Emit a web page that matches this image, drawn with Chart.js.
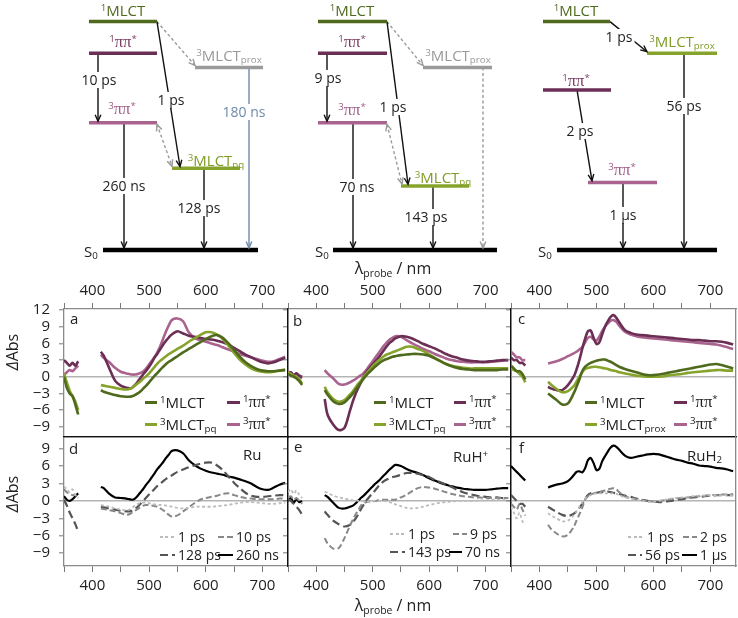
<!DOCTYPE html>
<html>
<head>
<meta charset="utf-8">
<script src="https://cdn.jsdelivr.net/npm/chart.js@4.4.1/dist/chart.umd.min.js"></script>
<style>
html, body { margin: 0; padding: 0; background: #fff; }
#wrap { position: relative; width: 738px; height: 618px; overflow: hidden; font-family: "Open Sans", sans-serif; color: #222; }
.layer { position: absolute; left: 0; top: 0; width: 738px; height: 618px; }
.txt { position: absolute; white-space: nowrap; line-height: 1; font-size: 15px; }
.c { transform: translate(-50%, -50%); }
.l { transform: translateY(-50%); }
.bg { background: #fff; padding: 1px 2px; }
.small { font-size: 14px; }
sup { font-size: .65em; vertical-align: .5em; line-height: 0; }
sub { font-size: .65em; vertical-align: -.3em; line-height: 0; }
.pi { font-family: "Liberation Serif", serif; font-size: 1.1em; }
.sw { position: absolute; }
</style>
</head>
<body>
<div id="wrap"></div>
<script>
// ---- spectra: wavelength grid (nm), 395 is the gap between the two probe windows
const WL = [350,355,360,365,370,375,395,
  415,420,430,440,450,460,
  465,470,475,480,485,490,495,500,505,510,515,520,525,530,535,540,
  550,560,570,580,590,600,610,620,630,640,650,660,670,680,690,700,710,720,730,740];

const X_TICKS = [350,400,450,500,550,600,650,700];
const X_LABELS = [400,500,600,700];
const Y_TICKS_TOP = [-9,-6,-3,0,3,6,9,12];
const Y_TICKS_BOT = [-9,-6,-3,0,3,6,9];

// panel a (Ru, spectra of the states)
const A_1MLCT = [0,-2,-3,-3.5,-5,-6.8, null,
  -2.4,-2.7,-3.0,-3.3,-3.5,-3.6,
  -3.6,-3.5,-3.3,-3.0,-2.6,-2.1,-1.6,-1.0,-0.4,0.2,0.7,1.3,1.8,2.3,2.7,3.0,
  3.7,4.4,5.0,5.6,6.2,6.8,7.3,7.5,7.0,6.0,4.8,3.6,2.6,1.9,1.4,1.1,1.0,1.0,1.1,1.2];
const A_3MLCT = [0.5,-1,-2.5,-3.5,-4.5,-6, null,
  -1.5,-1.6,-1.8,-2.0,-2.2,-2.3,
  -2.2,-2.0,-1.6,-1.2,-0.8,-0.3,0.1,0.6,1.2,1.8,2.4,2.9,3.3,3.7,4.1,4.4,
  5.0,5.6,6.3,6.9,7.5,8.0,8.0,7.6,6.8,5.6,4.3,3.1,2.2,1.5,1.1,0.9,0.8,0.9,1.1,1.3];
const A_1PP = [3.0,2.5,2.0,2.5,2.0,2.8, null,
  4.5,3.8,1.5,-0.7,-1.6,-2.0,
  -2.1,-2.0,-1.5,-0.9,-0.2,0.5,1.1,1.8,2.6,3.5,4.2,5.0,5.8,6.5,7.1,7.6,
  8.2,7.8,7.4,7.2,7.0,6.8,6.7,6.5,6.2,5.8,5.2,4.6,4.0,3.5,3.0,2.6,2.4,2.6,3.0,3.4];
const A_3PP = [0.3,0.8,1.2,1.0,1.5,2.0, null,
  4.0,3.4,2.6,1.6,0.9,0.6,
  0.5,0.4,0.4,0.5,0.7,1.0,1.5,2.2,2.9,3.6,4.5,5.6,6.9,8.2,9.3,10.2,
  10.5,10.0,8.0,7.0,6.6,6.3,6.0,5.7,5.3,4.9,4.5,4.1,3.8,3.5,3.2,2.9,2.7,2.8,3.2,3.6];

// panel b (RuH+)
const B_1MLCT = [0.5,0.2,0.0,-0.3,-0.8,-1.5, null,
  -2.4,-3.2,-4.4,-4.9,-4.6,-3.6,
  -3.0,-2.3,-1.6,-0.9,-0.2,0.4,0.9,1.4,1.9,2.3,2.7,3.0,3.2,3.4,3.6,3.7,
  3.9,4.0,4.1,4.1,4.0,3.8,3.3,2.8,2.3,1.9,1.6,1.4,1.3,1.2,1.2,1.2,1.2,1.2,1.3,1.3];
const B_3MLCT = [0.8,0.5,0.2,0.0,-0.5,-1.2, null,
  -1.8,-2.8,-4.0,-4.5,-4.2,-3.2,
  -2.6,-1.9,-1.2,-0.6,0.1,0.7,1.3,1.9,2.4,2.9,3.3,3.7,4.0,4.2,4.4,4.6,
  5.0,5.4,5.4,5.0,4.6,4.0,3.4,2.8,2.3,2.0,1.8,1.6,1.5,1.5,1.5,1.5,1.5,1.5,1.5,1.5];
const B_1PP = [0.5,0.8,0.3,0.6,0.2,0.0, null,
  -4.0,-6.8,-8.6,-9.6,-9.2,-6.0,
  -4.4,-3.0,-1.9,-0.8,0.2,1.0,1.6,2.2,2.8,3.4,4.1,4.8,5.5,6.1,6.5,6.9,
  7.3,7.2,6.9,6.4,5.9,5.5,5.1,4.6,4.1,3.7,3.4,3.1,2.9,2.8,2.7,2.7,2.8,2.9,3.0,3.0];
const B_3PP = [1.0,0.5,0.2,0.5,0.0,-0.3, null,
  1.2,0.6,-0.3,-1.3,-1.4,-1.0,
  -0.7,-0.4,0.0,0.3,0.8,1.4,2.1,2.8,3.5,4.2,4.9,5.6,6.2,6.7,7.0,7.3,
  7.2,6.6,6.0,5.5,5.0,4.6,4.1,3.7,3.3,3.0,2.8,2.7,2.6,2.6,2.6,2.6,2.7,2.8,2.9,3.0];

// panel c (RuH2)
const C_1MLCT = [2.0,1.5,1.0,1.0,0.5,-0.5, null,
  -3.0,-3.4,-4.2,-5.0,-4.8,-3.0,
  -1.8,-0.5,1.0,1.8,2.2,2.5,2.7,2.9,3.0,3.1,3.1,2.9,2.7,2.4,2.1,1.8,
  1.4,1.1,0.8,0.5,0.3,0.3,0.4,0.6,0.8,1.0,1.2,1.4,1.6,1.8,2.0,2.2,2.3,2.1,1.8,1.5];
const C_3MLCT = [1.5,1.2,1.0,0.5,0.0,-1.0, null,
  -0.9,-1.4,-2.2,-2.8,-2.6,-1.7,
  -0.9,0.0,0.8,1.4,1.6,1.7,1.8,1.8,1.7,1.6,1.5,1.4,1.2,1.1,1.0,0.8,
  0.6,0.4,0.2,0.1,0.0,0.0,0.0,0.1,0.3,0.4,0.5,0.7,0.8,0.9,1.0,1.1,1.2,1.2,1.1,1.1];
const C_1PP = [3.5,3.0,3.0,2.5,2.5,2.0, null,
  -1.8,-2.1,-2.4,-2.4,-1.5,0.0,
  1.3,3.0,5.0,6.8,8.2,8.3,7.0,5.9,6.2,7.6,9.0,10.0,10.8,11.1,10.6,9.8,
  8.4,7.9,7.6,7.5,7.4,7.3,7.2,7.1,7.0,6.9,6.8,6.7,6.6,6.6,6.5,6.4,6.4,6.3,6.1,5.8];
const C_3PP = [4.5,4.0,3.5,3.5,3.0,3.0, null,
  2.4,2.5,2.8,3.2,3.7,4.2,
  4.5,4.9,5.3,6.2,7.0,7.2,6.7,6.5,7.2,8.2,9.0,9.6,10.1,10.2,9.9,9.2,
  8.1,7.6,7.3,7.1,7.0,6.9,6.8,6.7,6.6,6.5,6.4,6.3,6.2,6.1,6.0,5.9,5.8,5.6,5.3,5.0];

// panel d (Ru, spectra at delays)
const D_1PS = [2.5,2.0,1.5,2.0,1.0,0.5, null,
  -0.7,-0.8,-1.0,-1.3,-1.5,-1.6,
  -1.5,-1.2,-0.8,-0.5,-0.4,-0.3,-0.3,-0.4,-0.5,-0.6,-0.7,-0.7,-0.7,-0.8,-0.9,-1.0,
  -1.2,-1.3,-1.2,-1.0,-1.0,-1.0,-1.0,-0.9,-0.8,-0.7,-0.5,-0.3,-0.2,-0.2,-0.3,-0.4,-0.5,-0.5,-0.4,-0.3];
const D_10PS = [2.0,1.5,1.2,1.0,1.0,0.5, null,
  -1.3,-1.4,-1.6,-1.8,-2.1,-2.4,
  -2.3,-2.0,-1.7,-1.4,-1.1,-0.8,-0.7,-0.7,-0.8,-0.9,-1.0,-1.3,-1.6,-2.0,-2.4,-2.7,
  -2.5,-1.8,-1.1,-0.4,0.2,0.5,0.7,0.9,1.2,1.3,1.0,0.7,0.5,0.4,0.3,0.3,0.3,0.3,0.4,0.4];
const D_128PS = [0.2,-0.8,-2.0,-3.0,-4.0,-5.3, null,
  -1.0,-1.1,-1.3,-1.5,-1.7,-1.8,
  -1.8,-1.7,-1.4,-1.0,-0.5,0.0,0.6,1.1,1.6,2.1,2.6,3.0,3.4,3.8,4.1,4.4,
  5.0,5.4,5.8,6.1,6.4,6.6,6.6,6.1,5.3,4.2,3.1,2.2,1.4,0.9,0.7,0.7,0.8,0.9,1.0,1.0];
const D_260NS = [0.8,0.2,0.0,0.3,0.8,1.3, null,
  2.4,2.2,1.2,0.6,0.5,0.4,
  0.3,0.2,0.4,0.9,1.5,2.1,2.8,3.4,4.1,4.8,5.5,6.1,6.7,7.4,8.0,8.6,
  8.7,8.2,7.0,6.2,5.6,5.2,4.9,4.7,4.5,4.2,4.0,3.7,3.4,3.0,2.4,2.0,1.9,2.3,2.8,3.1];

// panel e (RuH+)
const E_1PS = [1.5,2.0,1.2,1.8,1.0,0.5, null,
  1.6,1.4,0.9,0.6,0.4,0.2,
  0.1,0.1,0.0,0.0,-0.1,-0.1,-0.1,0.0,0.0,0.0,0.0,0.0,-0.1,-0.2,-0.4,-0.6,
  -0.9,-1.2,-1.3,-1.2,-1.0,-0.7,-0.5,-0.3,-0.2,-0.1,0.0,0.0,0.0,0.0,0.1,0.1,0.2,0.2,0.2,0.2];
const E_9PS = [0.5,0.8,0.2,0.5,0.0,-0.5, null,
  -6.4,-7.3,-8.2,-8.1,-6.4,-4.2,
  -3.2,-2.3,-1.5,-0.7,-0.3,-0.2,-0.1,-0.1,0.0,0.1,0.2,0.2,0.2,0.2,0.2,0.2,
  0.6,1.1,1.7,2.2,2.4,2.3,2.1,1.8,1.5,1.2,1.0,0.8,0.7,0.6,0.6,0.5,0.5,0.5,0.5,0.5];
const E_143PS = [0.3,0.0,-0.5,-1.0,-1.6,-2.4, null,
  -1.8,-2.4,-3.4,-4.0,-4.4,-4.1,
  -3.6,-3.0,-2.2,-1.3,-0.5,0.2,0.8,1.3,1.9,2.5,3.0,3.4,3.7,3.9,4.1,4.2,
  4.5,4.8,4.8,4.7,4.4,4.1,3.6,3.2,2.8,2.4,1.9,1.5,1.2,1.0,0.8,0.7,0.6,0.6,0.5,0.5];
const E_70NS = [0.0,0.5,-0.3,0.3,-0.2,0.0, null,
  1.0,0.7,-0.3,-1.2,-1.3,-1.0,
  -0.8,-0.4,0.1,0.6,1.0,1.5,2.0,2.5,3.0,3.4,3.9,4.4,4.9,5.4,5.8,6.2,
  6.0,5.5,5.1,4.8,4.4,3.9,3.5,3.1,2.8,2.5,2.3,2.1,2.0,1.9,1.9,1.9,2.0,2.1,2.2,2.2];

// panel f (RuH2)
const F_1PS = [-1.0,-2.0,-3.0,-2.0,-3.5,-4.0, null,
  -2.1,-2.5,-3.0,-3.5,-3.4,-2.5,
  -1.8,-1.0,-0.3,0.4,0.8,1.0,1.2,1.3,1.3,1.3,1.3,1.3,1.3,1.3,1.2,1.0,
  0.6,0.4,0.2,0.0,-0.1,-0.1,0.0,0.2,0.4,0.5,0.6,0.7,0.8,0.9,0.9,1.0,1.0,1.0,1.0,1.0];
const F_2PS = [-0.5,-1.0,-1.5,-0.5,-1.5,-2.5, null,
  -4.1,-4.8,-5.6,-6.1,-5.8,-4.5,
  -3.4,-2.3,-1.2,0.2,0.8,1.1,1.3,1.4,1.5,1.7,1.8,2.0,2.1,2.2,2.0,1.5,
  0.8,0.5,0.3,0.1,0.0,-0.1,0.0,0.1,0.3,0.4,0.5,0.6,0.7,0.8,0.9,1.0,1.0,1.1,1.1,1.2];
const F_56PS = [1.0,0.5,0.0,-0.5,-0.5,-1.0, null,
  -1.0,-1.3,-1.9,-2.4,-2.6,-2.2,
  -1.8,-1.2,-0.5,0.3,1.0,1.3,1.4,1.4,1.5,1.5,1.6,1.6,1.5,1.4,1.3,1.2,
  0.9,0.7,0.4,0.2,0.0,-0.1,-0.2,-0.1,0.0,0.2,0.3,0.5,0.6,0.7,0.8,0.9,1.0,1.0,1.0,1.0];
const F_1US = [6.0,5.5,5.0,4.5,4.0,3.5, null,
  2.3,2.5,2.8,3.0,3.4,4.4,
  5.0,5.1,4.9,5.6,7.0,7.4,6.5,5.3,5.5,6.8,7.7,8.5,9.2,9.5,9.3,8.8,
  7.8,7.4,7.6,7.8,8.0,8.1,8.0,7.7,7.4,7.1,6.9,6.6,6.4,6.1,6.0,5.9,5.7,5.6,5.4,5.1];

const D_LABELS = ['1 ps','10 ps','128 ps','260 ns'];
const E_LABELS = ['1 ps','9 ps','143 ps','70 ns'];
const F_LABELS = ['1 ps','2 ps','56 ps','1 µs'];

// ---- energy level diagram: [state, x from, x to, energy]
const LEVELS = [
  ['1MLCT',89,157,99.3], ['1pp',89,157,85.5], ['3pp',89,157,55.3],
  ['prox',195,263,79.4], ['pq',172,240,35.5], ['S0',103,258,0],
  ['1MLCT',318,387,99.3], ['1pp',318,387,85.5], ['3pp',318,387,55.3],
  ['prox',423,492,79.4], ['pq',401,469,27.8], ['S0',333,497,0],
  ['1MLCT',543,610,99.3], ['proxG',647,717,85.5], ['1pp',543,611,69.6],
  ['3pp',588,657,29.4], ['S0',557,717,0]
];
// [x0, E0, x1, E1, kind, heads]
const ARROWS = [
  [98,85.5,98,56,'k','end'], [157,99.3,180,36.3,'k','end'],
  [157,99.3,195,80.2,'g','end'], [157,54.6,172,36.4,'g','both'],
  [124,55.3,124,0.9,'k','end'], [204,35.5,204,0.9,'k','end'],
  [249,79.4,249,0.9,'b','end'],
  [327,85.5,327,56,'k','end'], [387,99.3,408,28.6,'k','end'],
  [387,99.3,423,80.2,'g','end'], [387,54.6,402,28.7,'g','both'],
  [353,55.3,353,0.9,'k','end'], [433,27.8,433,0.9,'k','end'],
  [483,79.4,483,0.9,'g','end'],
  [610,99.3,647,86.2,'k','end'], [577,69.6,592,30.1,'k','end'],
  [623,29.4,623,0.9,'k','end'], [684,85.5,684,0.9,'k','end']
];
// level names: [name, x, E, state]
const LEVEL_TEXT = [
  ['1MLCT',123,104.3,'1MLCT'], ['1pp',123,90.4,'1pp'], ['3pp',122,61.3,'3pp'],
  ['3MLCTpq',216,39.1,'pq'], ['3MLCTprox',229,84.8,'prox'], ['S0',91,-0.4,'S0'],
  ['1MLCT',352,104.3,'1MLCT'], ['1pp',352,90.4,'1pp'], ['3pp',352,60.9,'3pp'],
  ['3MLCTprox',458,84.8,'prox'], ['3MLCTpq',443,31.7,'pq'], ['S0',322,-0.4,'S0'],
  ['1MLCT',576,104.3,'1MLCT'], ['3MLCTprox',682,90.9,'proxG'], ['1pp',576,73.5,'1pp'],
  ['3pp',622,34.8,'3pp'], ['S0',545,-0.4,'S0']
];
// time constants: [text, x, E, kind]
const RATE_TEXT = [
  ['10 ps',99,74.1,'k'], ['1 ps',171,65.4,'k'], ['260 ns',124,27.8,'k'],
  ['128 ps',199,18.3,'k'], ['180 ns',244,59.8,'b'],
  ['9 ps',328,75,'k'], ['1 ps',393,62,'k'], ['70 ns',357,27.2,'k'], ['143 ps',426,14.3,'k'],
  ['1 ps',619,92.4,'k'], ['2 ps',580,51.7,'k'], ['1 µs',623,15,'k'], ['56 ps',684,62.4,'k']
];

// ---- styles
const COL = { '1MLCT':'#4f6a1d', 'pq':'#86a42c', 'proxG':'#86a42c', '1pp':'#6b2e54', '3pp':'#a9638e', 'prox':'#9a9a9a', 'S0':'#000' };
const TXT_COL = { '1MLCT':'#4f6a1d', 'pq':'#7f9c26', 'proxG':'#7f9c26', '1pp':'#7a3d63', '3pp':'#a05d88', 'prox':'#9a9a9a', 'S0':'#222' };
const ARROW_COL = { k:'#111', g:'#9a9a9a', b:'#6f8aa8' };
const NAME_HTML = {
  '1MLCT': '<sup>1</sup>MLCT',
  '3MLCTpq': '<sup>3</sup>MLCT<sub>pq</sub>',
  '3MLCTprox': '<sup>3</sup>MLCT<sub>prox</sub>',
  '1pp': '<sup>1</sup><span class="pi">ππ</span><sup>*</sup>',
  '3pp': '<sup>3</sup><span class="pi">ππ</span><sup>*</sup>',
  'S0': 'S<sub>0</sub>'
};
const TOP_STYLE = [
  { color: COL['1MLCT'] }, { color: COL['pq'] }, { color: COL['1pp'] }, { color: COL['3pp'] }
];
const BOT_STYLE = [
  { color: '#bcbcbc', dash: [3, 2.5], w: 1.8 },
  { color: '#888888', dash: [6, 3], w: 2 },
  { color: '#555555', dash: [8, 4], w: 2.2 },
  { color: '#000000', dash: [], w: 2.2 }
];

const GRAY = '#8a8a8a', DARK = '#111';

Chart.defaults.font.family = '"Open Sans", sans-serif';
Chart.defaults.color = '#222';
Chart.defaults.animation = false;
Chart.defaults.events = [];
Chart.defaults.plugins.legend.display = false;
Chart.defaults.plugins.tooltip.enabled = false;

const wrap = document.getElementById('wrap');

function addLayer(top, h) {
  const d = document.createElement('div');
  d.className = 'layer';
  d.style.top = top + 'px';
  d.style.height = h + 'px';
  const c = document.createElement('canvas');
  d.appendChild(c);
  wrap.appendChild(d);
  return c;
}

function addText(html, x, y, cls, color, size) {
  const d = document.createElement('div');
  d.className = 'txt ' + cls;
  d.innerHTML = html;
  d.style.left = x + 'px';
  d.style.top = y + 'px';
  if (color) d.style.color = color;
  if (size) d.style.fontSize = size + 'px';
  wrap.appendChild(d);
  return d;
}

function addSwatch(x0, x1, y, st, h) {
  const d = document.createElement('div');
  d.className = 'sw';
  d.style.left = x0 + 'px';
  d.style.width = (x1 - x0) + 'px';
  d.style.top = (y - h / 2) + 'px';
  d.style.height = h + 'px';
  if (st.dash && st.dash.length) {
    const a = st.dash[0], b = st.dash[1];
    d.style.background = `repeating-linear-gradient(to right, ${st.color} 0 ${a}px, transparent ${a}px ${a + b}px)`;
  } else {
    d.style.background = st.color;
  }
  wrap.appendChild(d);
}

// ---- arrow heads for the level diagram
const arrowHeads = {
  id: 'arrowHeads',
  afterDatasetsDraw(chart) {
    const ctx = chart.ctx;
    chart.data.datasets.forEach((ds, i) => {
      if (!ds.heads) return;
      const pts = chart.getDatasetMeta(i).data;
      const a = pts[0], b = pts[pts.length - 1];
      ctx.save();
      ctx.strokeStyle = ds.borderColor;
      ctx.lineWidth = 1.4;
      ctx.setLineDash([]);
      const head = (p, q) => {
        const ang = Math.atan2(q.y - p.y, q.x - p.x), L = 7, w = 0.42;
        ctx.beginPath();
        ctx.moveTo(q.x - L * Math.cos(ang - w), q.y - L * Math.sin(ang - w));
        ctx.lineTo(q.x, q.y);
        ctx.lineTo(q.x - L * Math.cos(ang + w), q.y - L * Math.sin(ang + w));
        ctx.stroke();
      };
      head(a, b);
      if (ds.heads === 'both') head(b, a);
      ctx.restore();
    });
  }
};

// rotated "ΔAbs" for the left column
function yTitle(yc) {
  return {
    id: 'yTitle',
    afterDraw(chart) {
      const ctx = chart.ctx;
      const fi = 'italic 16px "Open Sans", sans-serif', fn = '16px "Open Sans", sans-serif';
      ctx.save();
      ctx.translate(13, yc);
      ctx.rotate(-Math.PI / 2);
      ctx.fillStyle = '#222';
      ctx.textBaseline = 'middle';
      ctx.font = fi; const w1 = ctx.measureText('Δ').width;
      ctx.font = fn; const w2 = ctx.measureText('Abs').width;
      const x0 = -(w1 + w2) / 2;
      ctx.font = fi; ctx.fillText('Δ', x0, 0);
      ctx.font = fn; ctx.fillText('Abs', x0 + w1, 0);
      ctx.restore();
    }
  };
}

const diagSets = [];
LEVELS.forEach(([st, x0, x1, e]) => {
  diagSets.push({
    data: [{ x: x0, y: e }, { x: x1, y: e }],
    borderColor: COL[st], borderWidth: st === 'S0' ? 4.5 : 3.5,
    pointRadius: 0, borderCapStyle: 'butt'
  });
});
ARROWS.forEach(([x0, e0, x1, e1, kind, heads]) => {
  diagSets.push({
    data: [{ x: x0, y: e0 }, { x: x1, y: e1 }],
    borderColor: ARROW_COL[kind], borderWidth: 1.4,
    borderDash: kind === 'g' ? [3, 2.5] : [],
    pointRadius: 0, heads: heads
  });
});

const diag = new Chart(addLayer(0, 260), {
  type: 'line',
  data: { datasets: diagSets },
  options: {
    responsive: true, maintainAspectRatio: false,
    layout: { padding: 0 },
    scales: {
      x: { type: 'linear', display: false, min: 0, max: 738 },
      y: { type: 'linear', display: false, min: -4.35, max: 108.7 }
    }
  },
  plugins: [arrowHeads]
});

const dx = v => diag.scales.x.getPixelForValue(v);
const dy = v => diag.scales.y.getPixelForValue(v);
LEVEL_TEXT.forEach(([name, x, e, st]) => {
  addText(NAME_HTML[name], dx(x), dy(e), 'c', TXT_COL[st], 15);
});
RATE_TEXT.forEach(([t, x, e, kind]) => {
  addText(t, dx(x), dy(e), 'c bg', kind === 'b' ? '#6f8aa8' : '#222', 14);
});

// ---- spectra panels
const zeroLine = c => (c.tick && c.tick.value === 0) ? '#b4b4b4' : 'rgba(0,0,0,0)';
const minus = v => v < 0 ? '\u2212' + (-v) : String(v);
const AX_W = 60, TICK_W = 6, AX_H = 30;

function edgeAxis(pos, color) {
  return {
    type: 'linear', position: pos, display: true, min: 0, max: 1,
    afterFit: s => { if (s.isHorizontal()) s.height = 0; else s.width = 0; },
    ticks: { display: false },
    grid: { drawOnChartArea: false, drawTicks: false },
    border: { color: color, width: 1.3 }
  };
}

function panel(box, topRow, series, styles, edges, showY, extra) {
  const [L, T, R, B] = box;
  const yMin = topRow ? -10.85 : -11.2, yMax = topRow ? 12.2 : 11.0;
  const yTicks = topRow ? Y_TICKS_TOP : Y_TICKS_BOT;
  const yw = showY ? AX_W : TICK_W;
  const datasets = series.map((vals, i) => ({
    data: WL.map((x, j) => ({ x: x, y: vals[j] })),
    borderColor: styles[i].color,
    borderDash: styles[i].dash || [],
    borderWidth: styles[i].w || 2.6,
    pointRadius: 0, tension: 0.3,
    xAxisID: 'x', yAxisID: 'y'
  }));
  return new Chart(addLayer(0, 618), {
    type: 'line',
    data: { datasets },
    options: {
      responsive: true, maintainAspectRatio: false,
      layout: { padding: {
        left: L - yw,
        top: topRow ? T - AX_H : T,
        right: 738 - R,
        bottom: topRow ? 618 - B : 618 - B - AX_H
      } },
      scales: {
        x: {
          type: 'linear', position: topRow ? 'top' : 'bottom', min: 350, max: 745,
          afterFit: s => { s.height = AX_H; },
          afterBuildTicks: s => { s.ticks = X_TICKS.map(v => ({ value: v })); },
          ticks: { autoSkip: false, maxRotation: 0, padding: topRow ? 3 : 5, font: { size: 15 }, color: '#222',
                   callback: v => X_LABELS.includes(v) ? String(v) : '' },
          grid: { drawOnChartArea: false, tickLength: 6, tickColor: '#777', tickWidth: 1 },
          border: { color: topRow ? edges[0] : edges[2], width: 1.3 }
        },
        y: {
          type: 'linear', position: 'left', min: yMin, max: yMax,
          afterFit: s => { s.width = yw; },
          afterBuildTicks: s => { s.ticks = yTicks.map(v => ({ value: v })); },
          ticks: { display: showY, autoSkip: false, padding: 9, font: { size: 15 }, color: '#222', callback: minus },
          grid: { color: zeroLine, lineWidth: 1.6, tickLength: 5, tickColor: '#777', tickWidth: 1 },
          border: { color: edges[3], width: 1.3 }
        },
        x2: edgeAxis(topRow ? 'bottom' : 'top', topRow ? edges[2] : edges[0]),
        y2: edgeAxis('right', edges[1])
      }
    },
    plugins: extra ? [extra] : []
  });
}

// edges: [top, right, bottom, left]
panel([64, 309, 288, 437], true, [A_1MLCT, A_3MLCT, A_1PP, A_3PP], TOP_STYLE, [GRAY, DARK, DARK, GRAY], true, yTitle(352));
panel([288, 309, 511, 437], true, [B_1MLCT, B_3MLCT, B_1PP, B_3PP], TOP_STYLE, [GRAY, DARK, DARK, DARK], false);
panel([511, 309, 736, 437], true, [C_1MLCT, C_3MLCT, C_1PP, C_3PP], TOP_STYLE, [GRAY, GRAY, DARK, DARK], false);
panel([64, 437, 288, 566], false, [D_1PS, D_10PS, D_128PS, D_260NS], BOT_STYLE, [DARK, DARK, GRAY, GRAY], true, yTitle(494));
panel([288, 437, 511, 566], false, [E_1PS, E_9PS, E_143PS, E_70NS], BOT_STYLE, [DARK, DARK, GRAY, DARK], false);
panel([511, 437, 736, 566], false, [F_1PS, F_2PS, F_56PS, F_1US], BOT_STYLE, [DARK, GRAY, GRAY, DARK], false);

// ---- titles, panel letters, sample names
const LAMBDA = 'λ<sub>probe</sub> / nm';
addText(LAMBDA, 393, 268, 'c', '#222', 16);
addText(LAMBDA, 393, 605, 'c', '#222', 16);

[['a', 70, 318], ['b', 293, 320], ['c', 518, 318], ['d', 69, 448], ['e', 294, 446], ['f', 519, 447]]
  .forEach(([t, x, y]) => addText(t, x, y, 'l'));
addText('Ru', 243, 454, 'l');
addText('RuH<sup>+</sup>', 453, 456, 'l');
addText('RuH<sub>2</sub>', 687, 455, 'l');

// ---- legends
const TOP_LEG = [
  [[145,157,160],[227,240,243],402,424,'3MLCTpq'],
  [[374,386,389],[454,466,469],402,424,'3MLCTpq'],
  [[585,597,600],[674,687,690],402,424,'3MLCTprox']
];
TOP_LEG.forEach(([c1, c2, y1, y2, trip]) => {
  [[c1, y1, '1MLCT', 0], [c2, y1, '1pp', 2], [c1, y2, trip, 1], [c2, y2, '3pp', 3]].forEach(([c, y, name, k]) => {
    addSwatch(c[0], c[1], y, TOP_STYLE[k], 3);
    addText(NAME_HTML[name], c[2], y, 'l');
  });
});

const BOT_LEG = [
  [D_LABELS, 537, 555, [[160,175,178],[218,233,236],[160,175,178],[218,233,236]]],
  [E_LABELS, 534, 552, [[390,405,408],[453,467,470],[390,405,408],[449,462,465]]],
  [F_LABELS, 537, 555, [[628,643,647],[683,697,700],[628,642,645],[682,697,700]]]
];
BOT_LEG.forEach(([labels, y1, y2, pos]) => {
  labels.forEach((t, k) => {
    const y = k < 2 ? y1 : y2;
    addSwatch(pos[k][0], pos[k][1], y, BOT_STYLE[k], 2.2);
    addText(t, pos[k][2], y, 'l small');
  });
});
</script>
</body>
</html>
